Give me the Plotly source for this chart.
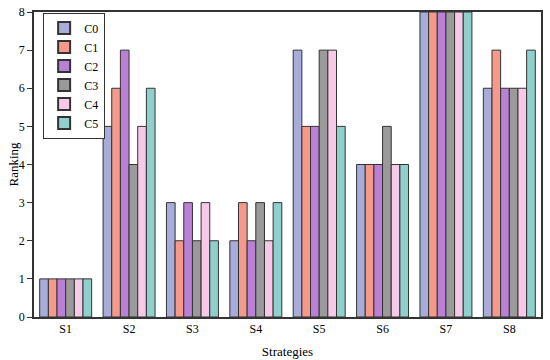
import plotly.graph_objects as go

categories = ["S1", "S2", "S3", "S4", "S5", "S6", "S7", "S8"]
series_names = ["C0", "C1", "C2", "C3", "C4", "C5"]
C0 = [1, 5, 3, 2, 7, 4, 8, 6]
C1 = [1, 6, 2, 3, 5, 4, 8, 7]
C2 = [1, 7, 3, 2, 5, 4, 8, 6]
C3 = [1, 4, 2, 3, 7, 5, 8, 6]
C4 = [1, 5, 3, 2, 7, 4, 8, 6]
C5 = [1, 6, 2, 3, 5, 4, 8, 7]
y_ticks = [0, 1, 2, 3, 4, 5, 6, 7, 8]

colors = ["#a7acd9", "#f59a8a", "#ba80d6", "#9a9a9a", "#f6cae6", "#8fd0cc"]
values = [C0, C1, C2, C3, C4, C5]

fig = go.Figure()
for name, vals, col in zip(series_names, values, colors):
    fig.add_trace(go.Bar(
        x=categories, y=vals, name=name,
        marker=dict(color=col, line=dict(color="#333333", width=1)),
    ))

font = "Liberation Serif"
fig.update_layout(
    width=550, height=360,
    margin=dict(l=34, r=9, t=12, b=43),
    paper_bgcolor="white", plot_bgcolor="white",
    barmode="group", bargap=0.18, bargroupgap=0,
    font=dict(family=font, size=12, color="black"),
    showlegend=True,
    legend=dict(
        x=0.018, y=0.998, xanchor="left", yanchor="top",
        bordercolor="#333333", borderwidth=1, bgcolor="white",
        font=dict(family=font, size=12), tracegroupgap=0,
        itemsizing="constant",
    ),
    xaxis=dict(
        title=dict(text="Strategies", font=dict(family=font, size=13), standoff=12),
        showline=True, linecolor="#333333", linewidth=1.5, mirror=True,
        ticks="", showgrid=False, automargin=False,
    ),
    yaxis=dict(
        range=[0, 8], tickvals=y_ticks,
        showline=True, linecolor="#333333", linewidth=1.5, mirror=True,
        ticks="outside", ticklen=5, tickcolor="#333333",
        showgrid=False, zeroline=False, automargin=False,
    ),
    annotations=[dict(
        text="Ranking", textangle=-90, xref="paper", yref="paper",
        x=0, y=0.5, xanchor="center", yanchor="middle", xshift=-21,
        showarrow=False, font=dict(family=font, size=13),
    )],
)

fig.write_html("out.html", config={"displayModeBar": False},
               post_script="document.body.style.margin='0';")
